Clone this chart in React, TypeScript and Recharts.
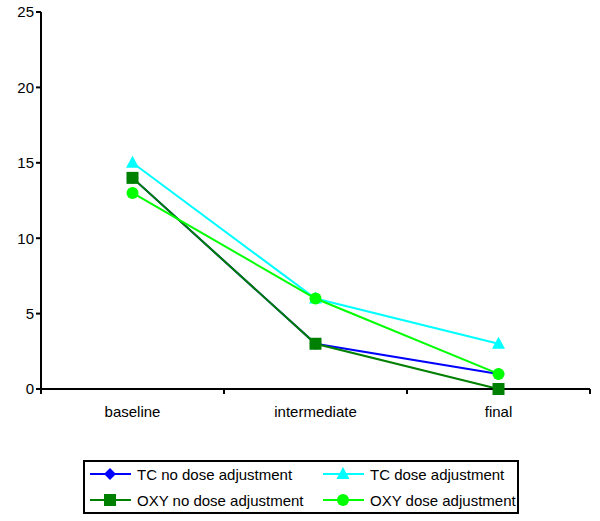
import React from "react";
import { LineChart, Line, XAxis, YAxis, Legend } from "recharts";

const categories = ["baseline", "intermediate", "final"];
const tcNoDose = [14, 3, 1];
const tcDose = [15, 6, 3];
const oxyNoDose = [14, 3, 0];
const oxyDose = [13, 6, 1];
const yTicks = [0, 5, 10, 15, 20, 25];

const data = categories.map((c, i) => ({
  name: c,
  tcNo: tcNoDose[i],
  tcDose: tcDose[i],
  oxyNo: oxyNoDose[i],
  oxyDose: oxyDose[i],
}));

const FONT = '"Liberation Sans", Arial, sans-serif';

const Diamond = ({ cx, cy, color }: any) =>
  cx == null ? null : (
    <polygon points={`${cx},${cy - 6} ${cx + 6},${cy} ${cx},${cy + 6} ${cx - 6},${cy}`} fill={color} />
  );
const Triangle = ({ cx, cy, color }: any) =>
  cx == null ? null : (
    <polygon points={`${cx},${cy - 7} ${cx + 6.5},${cy + 5} ${cx - 6.5},${cy + 5}`} fill={color} />
  );
const Square = ({ cx, cy, color }: any) =>
  cx == null ? null : <rect x={cx - 6} y={cy - 6} width={12} height={12} fill={color} />;
const Circle = ({ cx, cy, color }: any) =>
  cx == null ? null : <circle cx={cx} cy={cy} r={6} fill={color} />;

const series = [
  { key: "tcNo", name: "TC no dose adjustment", color: "#0000FF", Shape: Diamond },
  { key: "tcDose", name: "TC dose adjustment", color: "#00FFFF", Shape: Triangle },
  { key: "oxyNo", name: "OXY no dose adjustment", color: "#008000", Shape: Square },
  { key: "oxyDose", name: "OXY dose adjustment", color: "#00FF00", Shape: Circle },
];

const XTick = (props: any) => {
  const { x, y, payload, index } = props;
  const half = payload && payload.offset ? payload.offset : 91.5;
  return (
    <g>
      <line x1={x - half} y1={y - 8} x2={x - half} y2={y - 3} stroke="#000" strokeWidth={2} />
      {index === categories.length - 1 && (
        <line x1={x + half} y1={y - 8} x2={x + half} y2={y - 3} stroke="#000" strokeWidth={2} />
      )}
      <text x={x} y={y + 20} textAnchor="middle" fontFamily={FONT} fontSize={15} fill="#000">
        {payload.value}
      </text>
    </g>
  );
};

const renderLegend = () => (
  <div
    style={{
      border: "2px solid #000",
      boxSizing: "border-box",
      width: 436,
      height: 54,
      display: "grid",
      gridTemplateColumns: "233px 197px",
      alignContent: "center",
      rowGap: 4,
      fontFamily: FONT,
      fontSize: 15,
      color: "#000",
      whiteSpace: "nowrap",
      overflow: "hidden",
    }}
  >
    {series.map((s) => (
      <div key={s.key} style={{ display: "flex", alignItems: "center", height: 22, paddingLeft: 4 }}>
        <svg width={44} height={16} style={{ marginRight: 4, flexShrink: 0 }}>
          <line x1={1} y1={8} x2={42} y2={8} stroke={s.color} strokeWidth={2} />
          <s.Shape cx={21} cy={8} color={s.color} />
        </svg>
        <span>{s.name}</span>
      </div>
    ))}
  </div>
);

export default function App() {
  return (
    <div style={{ position: "absolute", left: 0, top: 0, width: 600, height: 521, background: "#fff" }}>
      <LineChart width={600} height={521} data={data} margin={{ top: 12, right: 10, left: 0, bottom: 48 }}>
        <XAxis
          dataKey="name"
          scale="band"
          axisLine={{ stroke: "#000", strokeWidth: 2 }}
          tickLine={false}
          tick={<XTick />}
          height={30}
          interval={0}
        />
        <YAxis
          domain={[0, 25]}
          ticks={yTicks}
          width={41}
          axisLine={{ stroke: "#000", strokeWidth: 2 }}
          tickLine={{ stroke: "#000", strokeWidth: 2 }}
          tickSize={5}
          tick={{ fontFamily: FONT, fontSize: 15, fill: "#000" }}
        />
        <Legend
          content={renderLegend}
          wrapperStyle={{ position: "absolute", left: 83, top: 460, width: 436, height: 54 }}
        />
        {series.map((s) => (
          <Line
            key={s.key}
            dataKey={s.key}
            name={s.name}
            stroke={s.color}
            strokeWidth={2}
            type="linear"
            dot={(p: any) => <s.Shape key={p.index} cx={p.cx} cy={p.cy} color={s.color} />}
            activeDot={false}
            isAnimationActive={false}
          />
        ))}
      </LineChart>
    </div>
  );
}
